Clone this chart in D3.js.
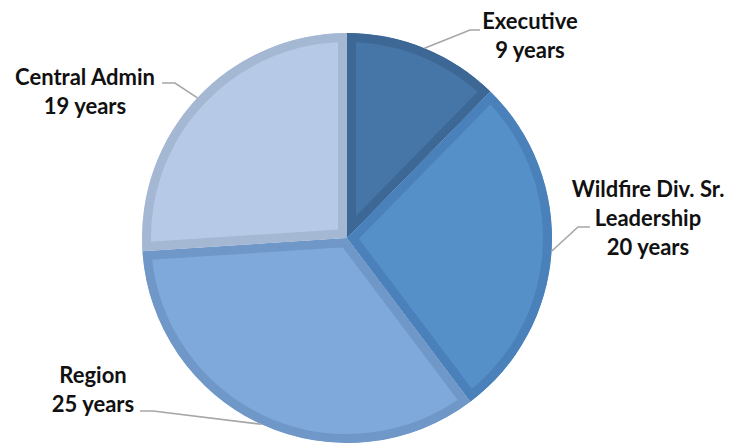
<!DOCTYPE html>
<html><head><meta charset="utf-8">
<script src="https://cdn.jsdelivr.net/npm/d3@7"></script>
<style>html,body{margin:0;padding:0;background:#fff;}svg{display:block;}</style>
</head><body>
<svg id="chart" width="731" height="447"></svg>
<script>
const categories = ["Executive", "Wildfire Div. Sr. Leadership", "Region", "Central Admin"];
const values = [9, 20, 25, 19];
const labelLines = [["Executive", "9 years"], ["Wildfire Div. Sr.", "Leadership", "20 years"], ["Region", "25 years"], ["Central Admin", "19 years"]];
const fills = ["#4576a7", "#5590c9", "#7fa9da", "#b6cae8"];
const borders = ["#3d6896", "#4a81ba", "#6f98c8", "#a5b8d3"];

const W = 731, H = 447, cx = 347, cy = 238, R = 205;
const svg = d3.select("#chart");
const g = svg.append("g").attr("transform", `translate(${cx},${cy})`);

const pie = d3.pie().sort(null).value(d => d)(values);
const arc = d3.arc().innerRadius(0).outerRadius(R);

const defs = svg.append("defs");
pie.forEach((d, i) => {
  defs.append("clipPath").attr("id", "clip" + i)
    .append("path").attr("d", arc(d));
});

g.selectAll("path.slice").data(pie).join("path")
  .attr("class", "slice")
  .attr("d", arc)
  .attr("fill", (d, i) => fills[i])
  .attr("stroke", (d, i) => borders[i])
  .attr("stroke-width", 18)
  .attr("stroke-linejoin", "miter")
  .attr("clip-path", (d, i) => `url(#clip${i})`);

// label layout (elbow and text anchor positions, absolute px)
const layout = [
  {elbow: [470, 30], end: [480, 30], tx: 530, ty: 29},
  {elbow: [578, 227], end: [590, 227], tx: 648, ty: 197},
  {elbow: [153, 411], end: [140, 411], tx: 93, ty: 383},
  {elbow: [175, 83], end: [162, 83], tx: 85, ty: 85}
];
pie.forEach((d, i) => {
  const a = (d.startAngle + d.endAngle) / 2;
  const p = [cx + R * Math.sin(a), cy - R * Math.cos(a)];
  const L = layout[i];
  svg.append("polyline")
    .attr("points", [p, L.elbow, L.end].map(q => q.join(",")).join(" "))
    .attr("fill", "none").attr("stroke", "#a6a6a6").attr("stroke-width", 1.6);
  const t = svg.append("text")
    .attr("text-anchor", "middle")
    .attr("font-family", "Lato, 'Open Sans', sans-serif")
    .attr("font-weight", "bold").attr("font-size", 22).attr("fill", "#111");
  labelLines[i].forEach((s, j) => {
    t.append("tspan").attr("x", L.tx).attr("y", L.ty + j * 29).text(s);
  });
});
</script>
</body></html>
